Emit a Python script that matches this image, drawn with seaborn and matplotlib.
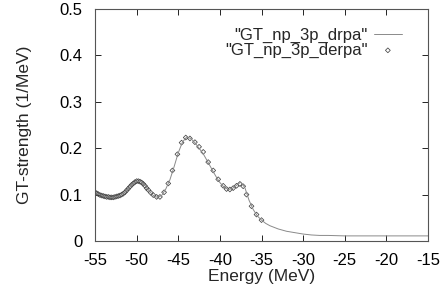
import numpy as np
import pandas as pd
import matplotlib
matplotlib.use("Agg")
import matplotlib.pyplot as plt
import seaborn as sns

# ── data ─────────────────────────────────────────────────────────────────────
# "GT_np_3p_drpa" : thin line
drpa_energy = [-55.0, -54.5, -54.0, -53.5, -53.0, -52.5, -52.0, -51.5, -51.0,
               -50.5, -50.0, -49.5, -49.0, -48.5, -48.0, -47.5, -47.0, -46.5,
               -46.0, -45.5, -45.0, -44.5, -44.0, -43.5, -43.0, -42.5, -42.0,
               -41.5, -41.0, -40.5, -40.0, -39.5, -39.0, -38.5, -38.0, -37.5,
               -37.0, -36.5, -36.0, -35.5, -35.0, -34.5, -34.0, -33.0, -32.0,
               -31.0, -30.0, -29.0, -28.0, -27.0, -25.0, -20.0, -15.0]
drpa_strength = [0.105, 0.100, 0.097, 0.095, 0.094, 0.095, 0.098, 0.104, 0.113,
                 0.122, 0.129, 0.128, 0.120, 0.108, 0.098, 0.094, 0.098, 0.112,
                 0.132, 0.160, 0.190, 0.213, 0.224, 0.221, 0.212, 0.200, 0.188,
                 0.172, 0.156, 0.140, 0.126, 0.116, 0.111, 0.113, 0.120, 0.127,
                 0.115, 0.088, 0.068, 0.054, 0.045, 0.038, 0.033, 0.026, 0.021,
                 0.018, 0.015, 0.013, 0.012, 0.012, 0.011, 0.011, 0.011]

# "GT_np_3p_derpa" : open point markers
derpa_energy = [-55.0, -54.8, -54.6, -54.4, -54.2, -54.0, -53.8, -53.6, -53.4,
                -53.2, -53.0, -52.8, -52.6, -52.4, -52.2, -52.0, -51.8, -51.6,
                -51.4, -51.2, -51.0, -50.8, -50.6, -50.4, -50.2, -50.0, -49.8,
                -49.6, -49.4, -49.2, -49.0, -48.8, -48.6, -48.3, -48.0, -47.6,
                -47.2, -46.7, -46.2, -45.7, -45.1, -44.6, -44.1, -43.6, -43.0,
                -42.5, -42.0, -41.4, -40.8, -40.2, -39.6, -39.2, -38.8, -38.4,
                -38.0, -37.6, -37.2, -36.8, -36.2, -35.6, -35.0]
derpa_strength = [0.105, 0.103, 0.101, 0.099, 0.098, 0.097, 0.096, 0.095, 0.095,
                  0.094, 0.094, 0.094, 0.095, 0.096, 0.097, 0.098, 0.100, 0.102,
                  0.105, 0.109, 0.113, 0.117, 0.121, 0.124, 0.127, 0.129, 0.129,
                  0.128, 0.126, 0.123, 0.119, 0.114, 0.110, 0.104, 0.099, 0.095,
                  0.095, 0.105, 0.124, 0.152, 0.187, 0.212, 0.223, 0.221, 0.213,
                  0.203, 0.192, 0.170, 0.152, 0.133, 0.119, 0.112, 0.111, 0.114,
                  0.119, 0.123, 0.118, 0.100, 0.075, 0.057, 0.045]

x_ticks = [-55, -50, -45, -40, -35, -30, -25, -20, -15]
y_ticks = [0, 0.1, 0.2, 0.3, 0.4, 0.5]
y_tick_labels = ["0", "0.1", "0.2", "0.3", "0.4", "0.5"]

# ── style ────────────────────────────────────────────────────────────────────
sns.set_style("ticks")
plt.rcParams["font.family"] = ["Liberation Sans", "DejaVu Sans"]
plt.rcParams["axes.unicode_minus"] = False

fig = plt.figure(figsize=(4.41, 2.92), dpi=100)
# axes box measured in pixels on the reference
ax = fig.add_axes([95 / 441, 1 - 241 / 292, 333 / 441, 232 / 292])

drpa = pd.DataFrame({"energy": drpa_energy, "strength": drpa_strength})
derpa = pd.DataFrame({"energy": derpa_energy, "strength": derpa_strength})

sns.lineplot(data=drpa, x="energy", y="strength", ax=ax, color="#8a8a8a",
             linewidth=0.7, label='"GT_np_3p_drpa"')
sns.scatterplot(data=derpa, x="energy", y="strength", ax=ax, marker="D",
                s=6, facecolor="none", edgecolor="#444444", linewidth=0.55,
                label='"GT_np_3p_derpa"')

ax.set_xlim(-55, -15)
ax.set_ylim(0, 0.5)
ax.set_xticks(x_ticks)
ax.set_yticks(y_ticks)
ax.set_yticklabels(y_tick_labels)
ax.tick_params(direction="in", top=True, right=True, length=4, width=0.6,
               labelsize=12, colors="black", pad=8.5)
ax.tick_params(axis="y", pad=9)
for side in ax.spines.values():
    side.set_linewidth(0.8)
    side.set_color("#555555")

ax.set_xlabel("Energy (MeV)", fontsize=12.5)
ax.set_ylabel("GT-strength (1/MeV)", fontsize=12.5)
ax.xaxis.set_label_coords(0.5, -0.12)
ax.yaxis.set_label_coords(-0.19, 0.5)

leg = ax.legend(loc="upper right", bbox_to_anchor=(0.922, 0.92),
                frameon=False, markerfirst=False, numpoints=1,
                borderpad=0, borderaxespad=0, labelspacing=0.0,
                handlelength=1.7, handletextpad=0.35, fontsize=12)

fig.savefig("out.png", dpi=100)
plt.close(fig)
